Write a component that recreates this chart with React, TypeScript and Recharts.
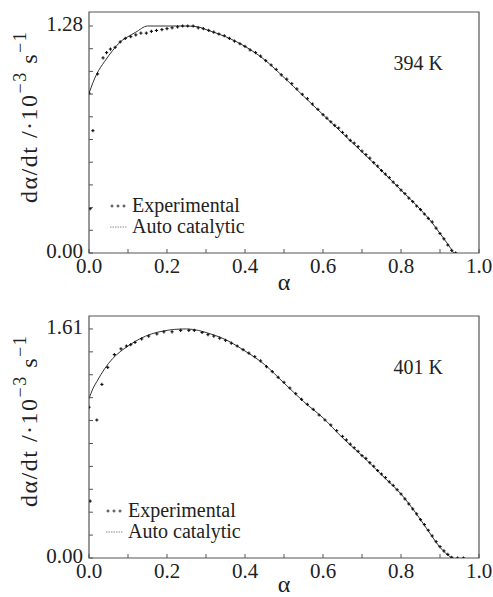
import React from "react"
import {
  ComposedChart,
  Line,
  Scatter,
  XAxis,
  YAxis,
  ReferenceArea,
  Legend,
} from "recharts"

const serif = "'Liberation Serif', 'DejaVu Serif', serif"

// alpha axis ticks (minor every 0.1, labelled every 0.2)
const xTicks = [0, 0.1, 0.2, 0.3, 0.4, 0.5, 0.6, 0.7, 0.8, 0.9, 1.0]
const xTickLabels = ["0.0", "", "0.2", "", "0.4", "", "0.6", "", "0.8", "", "1.0"]

// 394 K panel
const topYTicks = [0, 0.128, 0.256, 0.384, 0.512, 0.64, 0.768, 0.896, 1.024, 1.152, 1.28]
const topYTickLabels = ["0.00", "", "", "", "", "", "", "", "", "", "1.28"]

const topExpAlpha = [
  0.0, 0.003, 0.01, 0.022, 0.036, 0.045, 0.055, 0.067, 0.08, 0.093, 0.107, 0.12, 0.133, 0.147,
  0.16, 0.173, 0.187, 0.2, 0.213, 0.227, 0.24, 0.253, 0.267, 0.28, 0.293, 0.307, 0.32, 0.333,
  0.347, 0.36, 0.373, 0.387, 0.4, 0.413, 0.427, 0.44, 0.453, 0.467, 0.48, 0.493, 0.507, 0.52,
  0.533, 0.547, 0.56, 0.573, 0.587, 0.6, 0.61, 0.62, 0.63, 0.64, 0.65, 0.66, 0.67, 0.68, 0.69,
  0.7, 0.71, 0.72, 0.73, 0.74, 0.75, 0.76, 0.77, 0.78, 0.79, 0.8, 0.81, 0.82, 0.83, 0.84, 0.85,
  0.86, 0.87, 0.88, 0.89, 0.9, 0.91, 0.92, 0.93, 0.94,
]
const topExpRate = [
  0.9, 0.25, 0.69, 1.01, 1.1, 1.13, 1.15, 1.16, 1.19, 1.21, 1.22, 1.23, 1.24, 1.24,
  1.25, 1.255, 1.26, 1.265, 1.27, 1.275, 1.28, 1.28, 1.28, 1.27, 1.265, 1.255, 1.245, 1.235,
  1.225, 1.21, 1.195, 1.18, 1.165, 1.145, 1.13, 1.11, 1.085, 1.06, 1.035, 1.005, 0.98, 0.955,
  0.925, 0.895, 0.87, 0.84, 0.81, 0.78, 0.76, 0.74, 0.72, 0.705, 0.68, 0.66, 0.635, 0.62, 0.6,
  0.575, 0.555, 0.535, 0.51, 0.49, 0.465, 0.445, 0.425, 0.4, 0.38, 0.355, 0.335, 0.31, 0.29, 0.265, 0.245,
  0.22, 0.195, 0.175, 0.14, 0.11, 0.08, 0.045, 0.015, 0.0,
]
const topModelAlpha = [
  0, 0.01, 0.02, 0.04, 0.06, 0.08, 0.1, 0.12, 0.15, 0.2, 0.25, 0.28, 0.3, 0.35, 0.4, 0.45,
  0.5, 0.55, 0.6, 0.65, 0.7, 0.75, 0.8, 0.85, 0.88, 0.9, 0.92, 0.935,
]
const topModelRate = [
  0.9, 0.96, 1.01, 1.08, 1.14, 1.19, 1.22, 1.245, 1.28, 1.28, 1.28, 1.275, 1.26, 1.22, 1.165, 1.09,
  0.99, 0.885, 0.78, 0.675, 0.57, 0.465, 0.355, 0.245, 0.17, 0.11, 0.05, 0.0,
]

// 401 K panel
const botYTicks = [0, 0.161, 0.322, 0.483, 0.644, 0.805, 0.966, 1.127, 1.288, 1.449, 1.61]
const botYTickLabels = ["0.00", "", "", "", "", "", "", "", "", "", "1.61"]

const botExpAlpha = [
  0.0, 0.003, 0.02, 0.033, 0.048, 0.065, 0.082, 0.096, 0.107, 0.118, 0.135, 0.153, 0.174, 0.192,
  0.213, 0.235, 0.256, 0.27, 0.29, 0.305, 0.32, 0.335, 0.35, 0.365, 0.38, 0.395, 0.41, 0.425,
  0.44, 0.455, 0.47, 0.485, 0.5, 0.515, 0.53, 0.545, 0.56, 0.575, 0.59, 0.605, 0.62, 0.635,
  0.65, 0.66, 0.67, 0.68, 0.69, 0.7, 0.71, 0.72, 0.73, 0.74, 0.75, 0.76, 0.77, 0.78, 0.79, 0.8,
  0.81, 0.82, 0.83, 0.84, 0.85, 0.86, 0.87, 0.88, 0.89, 0.9, 0.91, 0.92, 0.93, 0.945, 0.96,
]
const botExpRate = [
  1.06, 0.4, 0.97, 1.22, 1.34, 1.43, 1.47, 1.49, 1.5, 1.515, 1.54, 1.56, 1.575, 1.59,
  1.59, 1.6, 1.6, 1.6, 1.585, 1.57, 1.56, 1.545, 1.53, 1.51, 1.49, 1.465, 1.44, 1.415,
  1.385, 1.345, 1.31, 1.27, 1.235, 1.195, 1.155, 1.115, 1.08, 1.045, 1.005, 0.97, 0.935, 0.895,
  0.855, 0.83, 0.8, 0.775, 0.75, 0.72, 0.7, 0.67, 0.645, 0.615, 0.59, 0.565, 0.535, 0.51, 0.48, 0.45,
  0.415, 0.38, 0.345, 0.31, 0.27, 0.235, 0.195, 0.155, 0.115, 0.08, 0.05, 0.025, 0.005, 0.0, 0.0,
]
const botModelAlpha = [
  0, 0.01, 0.02, 0.04, 0.06, 0.08, 0.1, 0.13, 0.16, 0.19, 0.22, 0.25, 0.28, 0.3, 0.35, 0.4,
  0.45, 0.5, 0.55, 0.6, 0.65, 0.7, 0.75, 0.8, 0.85, 0.88, 0.9, 0.93,
]
const botModelRate = [
  1.12, 1.19, 1.24, 1.33, 1.4, 1.45, 1.49, 1.54, 1.575, 1.595, 1.607, 1.61, 1.6, 1.585, 1.535, 1.455,
  1.36, 1.23, 1.1, 0.985, 0.845, 0.72, 0.585, 0.45, 0.27, 0.15, 0.075, 0.0,
]

const toRows = (xs: number[], ys: number[]) => xs.map((a, i) => ({ a, v: ys[i] }))

const PlusDot = (props: any) => {
  const { cx, cy } = props
  if (cx == null || cy == null) return null
  return (
    <g stroke="#111" strokeWidth={1.1}>
      <line x1={cx - 1.6} x2={cx + 1.6} y1={cy} y2={cy} />
      <line x1={cx} x2={cx} y1={cy - 1.6} y2={cy + 1.6} />
    </g>
  )
}

const XTick = (props: any) => {
  const { x, y, index } = props
  const label = xTickLabels[index]
  return (
    <g>
      <line x1={x} x2={x} y1={y} y2={y - 4} stroke="#555" />
      {label && (
        <text x={x} y={y + 20} textAnchor="middle" fontSize={21} fontFamily={serif} fill="#222">
          {label}
        </text>
      )}
    </g>
  )
}

const makeYTick = (labels: string[]) => (props: any) => {
  const { x, y, index } = props
  const label = labels[index]
  return (
    <g>
      <line x1={x} x2={x + 4} y1={y} y2={y} stroke="#555" />
      {label && (
        <text x={x - 6} y={y + 5} textAnchor="end" fontSize={21} fontFamily={serif} fill="#222">
          {label}
        </text>
      )}
    </g>
  )
}

const YTitle = ({ x, y }: { x: number; y: number }) => (
  <text
    transform={`translate(${x},${y}) rotate(-90)`}
    fontFamily={serif}
    fontSize={24}
    letterSpacing={1.5}
    fill="#222"
  >
    dα/dt /·10
    <tspan dy={-11} fontSize={18}>−3</tspan>
    <tspan dy={11}> s</tspan>
    <tspan dy={-11} fontSize={18}>−1</tspan>
  </text>
)

const LegendBox = () => (
  <div style={{ fontFamily: serif, fontSize: 20, lineHeight: "21px", color: "#222", whiteSpace: "nowrap" }}>
    <div style={{ display: "flex", alignItems: "center" }}>
      <svg width={24} height={21}>
        {[4, 10, 16].map((px) => (
          <g key={px} stroke="#333" strokeWidth={1}>
            <line x1={px - 1.5} x2={px + 1.5} y1={11} y2={11} />
            <line x1={px} x2={px} y1={9.5} y2={12.5} />
          </g>
        ))}
      </svg>
      <span>Experimental</span>
    </div>
    <div style={{ display: "flex", alignItems: "center" }}>
      <svg width={24} height={21}>
        <line x1={2} x2={19} y1={11} y2={11} stroke="#888" strokeWidth={1} strokeDasharray="1.5 1" />
      </svg>
      <span>Auto catalytic</span>
    </div>
  </div>
)

interface PanelProps {
  height: number
  marginTop: number
  axisHeight: number
  yMax: number
  yTicks: number[]
  yTickLabels: string[]
  expRows: { a: number; v: number }[]
  modelRows: { a: number; v: number }[]
  temp: string
  titleY: number
  alphaY: number
  legendTop: number
  legendLeft: number
}

function Panel(p: PanelProps) {
  return (
    <ComposedChart
      width={493}
      height={p.height}
      margin={{ top: p.marginTop, right: 14, bottom: 0, left: 0 }}
      style={{ fontFamily: serif }}
    >
      <XAxis
        type="number"
        dataKey="a"
        domain={[0, 1]}
        ticks={xTicks}
        allowDataOverflow
        axisLine={false}
        tickLine={false}
        tickSize={0}
        tickMargin={0}
        height={p.axisHeight}
        tick={<XTick />}
        interval={0}
        label={{
          content: () => (
            <text x={284} y={p.alphaY} textAnchor="middle" fontSize={24} fontFamily={serif} fill="#222">
              α
            </text>
          ),
        }}
      />
      <YAxis
        type="number"
        dataKey="v"
        domain={[0, p.yMax]}
        ticks={p.yTicks}
        allowDataOverflow
        axisLine={false}
        tickLine={false}
        tickSize={0}
        tickMargin={0}
        width={89}
        interval={0}
        tick={makeYTick(p.yTickLabels)}
        label={{ content: () => <YTitle x={37} y={p.titleY} /> }}
      />
      <ReferenceArea
        x1={0}
        x2={1}
        y1={0}
        y2={p.yMax}
        fill="none"
        stroke="#555"
        strokeWidth={1.2}
        fillOpacity={0}
        label={{
          content: (lp: any) => {
            const vb = lp.viewBox || {}
            return (
              <text
                x={(vb.x ?? 89) + (vb.width ?? 390) - 36}
                y={(vb.y ?? p.marginTop) + 58}
                textAnchor="end"
                fontSize={20}
                fontFamily={serif}
                fill="#222"
              >
                {p.temp}
              </text>
            )
          },
        }}
      />
      <Line
        data={p.modelRows}
        dataKey="v"
        type="monotone"
        stroke="#333"
        strokeWidth={1}
        dot={false}
        isAnimationActive={false}
        name="Auto catalytic"
      />
      <Scatter
        data={p.expRows}
        dataKey="v"
        shape={<PlusDot />}
        isAnimationActive={false}
        name="Experimental"
      />
      <Legend
        layout="vertical"
        align="center"
        verticalAlign="middle"
        content={() => <LegendBox />}
        wrapperStyle={{ left: p.legendLeft, top: p.legendTop, width: "auto", height: "auto" }}
      />
    </ComposedChart>
  )
}

export default function App() {
  return (
    <div style={{ position: "absolute", left: 0, top: 0, width: 493, height: 597, background: "#fff" }}>
      <Panel
        height={300}
        marginTop={12}
        axisHeight={47}
        yMax={1.359}
        yTicks={topYTicks}
        yTickLabels={topYTickLabels}
        expRows={toRows(topExpAlpha, topExpRate)}
        modelRows={toRows(topModelAlpha, topModelRate)}
        temp="394 K"
        titleY={203}
        alphaY={290}
        legendTop={195}
        legendLeft={108}
      />
      <Panel
        height={297}
        marginTop={16}
        axisHeight={39}
        yMax={1.701}
        yTicks={botYTicks}
        yTickLabels={botYTickLabels}
        expRows={toRows(botExpAlpha, botExpRate)}
        modelRows={toRows(botModelAlpha, botModelRate)}
        temp="401 K"
        titleY={207}
        alphaY={292}
        legendTop={200}
        legendLeft={104}
      />
    </div>
  )
}
